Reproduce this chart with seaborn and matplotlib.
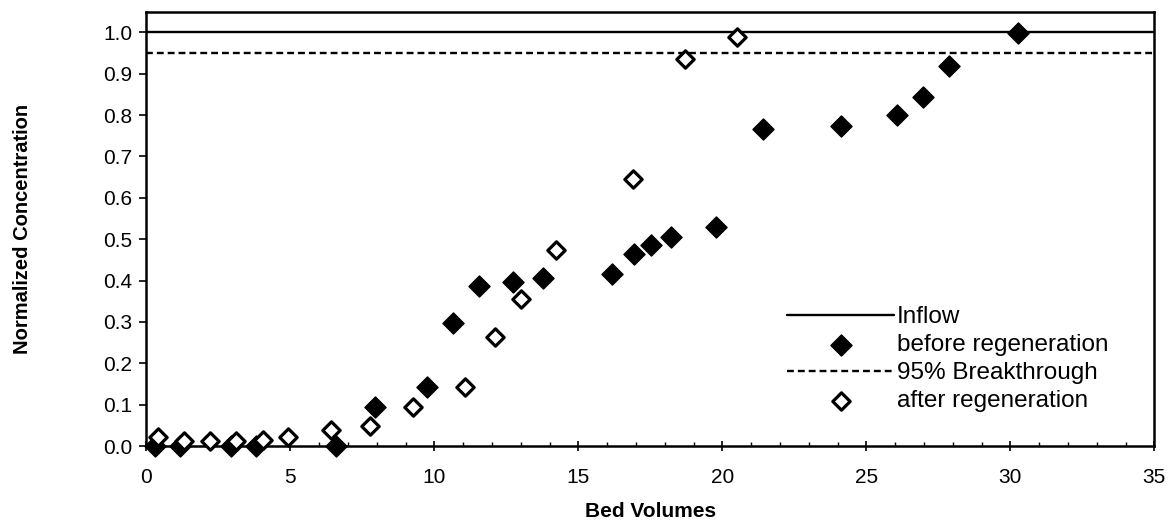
import numpy as np
import matplotlib
matplotlib.use('Agg')
import matplotlib.pyplot as plt
from matplotlib.ticker import MultipleLocator, FormatStrFormatter
import seaborn as sns

# Data
before_bv = [0.31, 1.17, 2.95, 3.82, 6.6, 7.93, 9.73, 10.64, 11.54, 12.72, 13.78,
             16.18, 16.93, 17.52, 18.21, 19.77, 21.41, 24.12, 26.05, 26.96, 27.87, 30.26]
before_conc = [0.0, 0.0, 0.0, 0.0, 0.0, 0.094, 0.142, 0.298, 0.387, 0.397, 0.407,
               0.416, 0.463, 0.486, 0.506, 0.530, 0.766, 0.773, 0.800, 0.844, 0.918, 0.998]

after_bv = [0.42, 1.32, 2.21, 3.11, 4.04, 4.91, 6.40, 7.77, 9.27, 11.07, 12.11,
            13.01, 14.22, 16.91, 18.72, 20.52]
after_conc = [0.021, 0.012, 0.012, 0.013, 0.015, 0.021, 0.039, 0.049, 0.094, 0.142, 0.263,
              0.355, 0.475, 0.646, 0.935, 0.988]

inflow = 1.0
breakthrough = 0.95

sns.set_style('ticks')
plt.rcParams['font.family'] = ['Liberation Sans', 'DejaVu Sans']
plt.rcParams.update({'text.color': 'black', 'axes.labelcolor': 'black',
                     'xtick.color': 'black', 'ytick.color': 'black'})

fig = plt.figure(figsize=(11.68, 5.23), dpi=100)
ax = fig.add_axes([146.3 / 1168, 1 - 446 / 523, 1008 / 1168, 434.3 / 523])

# reference lines
ax.axhline(inflow, color='black', lw=1.7, label='Inflow', zorder=2)
ax.axhline(breakthrough, color='black', lw=1.7, ls=(0, (2.9, 1.7)), label='95% Breakthrough', zorder=2)

sns.scatterplot(x=before_bv, y=before_conc, marker='D', s=115, color='black',
                edgecolor='black', linewidth=1, label='before regeneration',
                clip_on=False, zorder=5, ax=ax)
sns.scatterplot(x=after_bv, y=after_conc, marker='D', s=78, color='white',
                edgecolor='black', linewidth=2.3, label='after regeneration',
                clip_on=False, zorder=5, ax=ax)

ax.set_xlim(0, 35)
ax.set_ylim(0, 1.05)
ax.xaxis.set_major_locator(MultipleLocator(5))
ax.xaxis.set_minor_locator(MultipleLocator(1))
ax.set_yticks(np.arange(0, 1.01, 0.1))
ax.yaxis.set_major_formatter(FormatStrFormatter('%.1f'))

ax.tick_params(axis='x', which='major', direction='inout', length=7.5, width=1.2,
               labelsize=15, pad=12)
ax.tick_params(axis='x', which='minor', direction='in', length=3, width=1)
ax.tick_params(axis='y', which='major', direction='out', length=5, width=1.2,
               labelsize=15, pad=5)

for sp in ax.spines.values():
    sp.set_visible(True)
    sp.set_linewidth(1.8)
    sp.set_color('black')

ax.set_xlabel('Bed Volumes', fontsize=15, fontweight='bold')
ax.set_ylabel('Normalized Concentration', fontsize=14.5, fontweight='bold')
ax.xaxis.set_label_coords(0.5, -0.13)
ax.yaxis.set_label_coords(-0.113, 0.5)

# legend order as in the reference
h, l = ax.get_legend_handles_labels()
order = ['Inflow', 'before regeneration', '95% Breakthrough', 'after regeneration']
hd = dict(zip(l, h))
ax.legend([hd[k] for k in order], order, loc='center', bbox_to_anchor=(0.795, 0.2),
          frameon=False, fontsize=17.5, handlelength=4.4, handletextpad=0.1,
          labelspacing=0.25, borderpad=0)

fig.savefig('out.png', dpi=100)
